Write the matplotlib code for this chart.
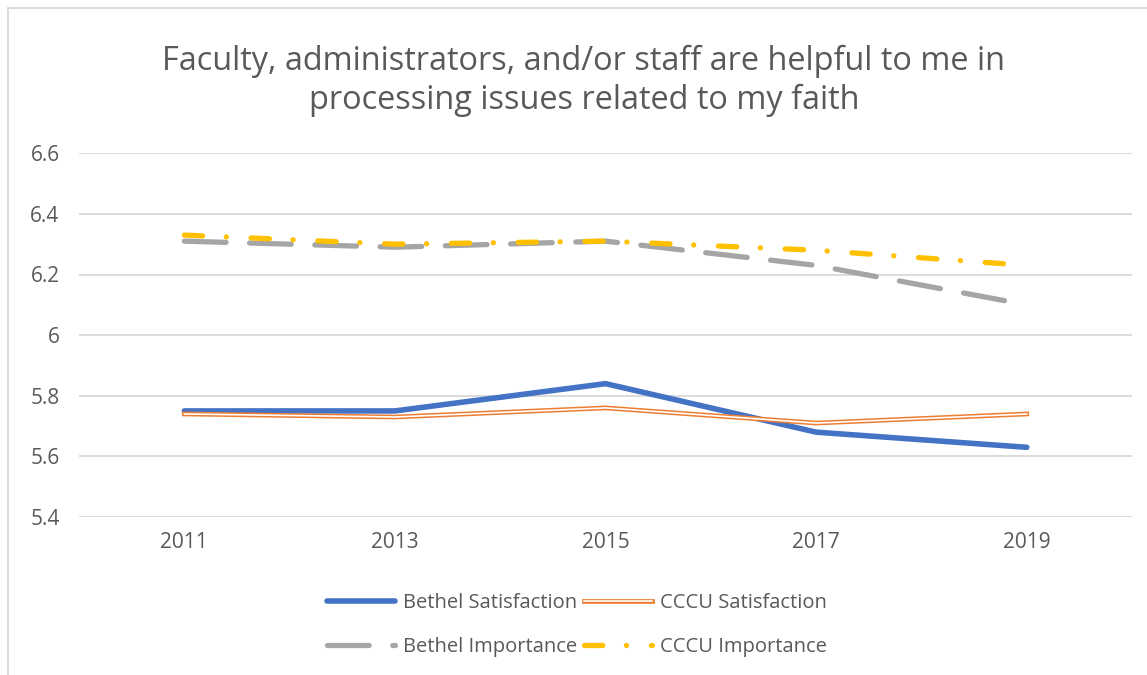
import matplotlib.pyplot as plt
from matplotlib.lines import Line2D

plt.rcParams['font.family'] = ['Open Sans', 'DejaVu Sans']
plt.rcParams['lines.scale_dashes'] = False

anos = ['2011', '2013', '2015', '2017', '2019']
bethel_satisf = [5.75, 5.75, 5.84, 5.68, 5.63]
cccu_satisf = [5.74, 5.73, 5.76, 5.71, 5.74]
bethel_import = [6.31, 6.29, 6.31, 6.23, 6.10]
cccu_import = [6.33, 6.30, 6.31, 6.28, 6.23]

cinza_txt = '#595959'
x = list(range(len(anos)))

fig = plt.figure(figsize=(11.47, 6.75), dpi=100)
ax = fig.add_axes([0.0689, 0.234, 0.9181, 0.539])

ax.plot(x, bethel_satisf, color='#4472C4', lw=4, solid_capstyle='round', zorder=3)
ax.plot(x, cccu_satisf, color='#ED7D31', lw=3.4, zorder=3)
ax.plot(x, cccu_satisf, color='white', lw=1.2, zorder=3)
ax.plot(x, bethel_import, color='#A5A5A5', lw=3.8, dashes=(30, 17),
        dash_capstyle='round', zorder=3)
ax.plot(x, cccu_import, color='#FFC000', lw=3.8, dashes=(13.2, 17, 0.1, 17.8),
        dash_capstyle='round', zorder=4)

ax.set_xlim(-0.5, len(anos) - 0.5)
ax.set_ylim(5.4, 6.6)
ax.set_yticks([5.4, 5.6, 5.8, 6.0, 6.2, 6.4, 6.6])
ax.set_yticklabels(['5.4', '5.6', '5.8', '6', '6.2', '6.4', '6.6'])
ax.set_xticks(x)
ax.set_xticklabels(anos)
ax.grid(axis='y', color='#D9D9D9', lw=1.3)
ax.set_axisbelow(True)
for s in ax.spines.values():
    s.set_visible(False)
ax.tick_params(length=0, labelsize=15, colors=cinza_txt, pad=11)
ax.tick_params(axis='y', pad=14)

fig.text(0.509, 0.88, 'Faculty, administrators, and/or staff are helpful to me in\nprocessing issues related to my faith',
         ha='center', va='center', fontsize=23.4, color=cinza_txt, linespacing=1.2)

# legenda
h_bs = Line2D([], [], color='#4472C4', lw=4, solid_capstyle='round')
h_cs = (Line2D([], [], color='#ED7D31', lw=3.4), Line2D([], [], color='white', lw=1.2))
h_bi = Line2D([], [], color='#A5A5A5', lw=3.8, dashes=(30, 17), dash_capstyle='round')
h_ci = Line2D([], [], color='#FFC000', lw=3.8, dashes=(13.2, 17, 0.1, 17.8), dash_capstyle='round')
leg = fig.legend([h_bs, h_bi, h_cs, h_ci],
                 ['Bethel Satisfaction', 'Bethel Importance', 'CCCU Satisfaction', 'CCCU Importance'],
                 ncol=2, loc='center', bbox_to_anchor=(0.503, 0.074), frameon=False,
                 fontsize=14.5, handlelength=3.4, handletextpad=0.4, columnspacing=0.3,
                 labelspacing=1.2)
for t in leg.get_texts():
    t.set_color(cinza_txt)

# borda do gráfico
fig.add_artist(Line2D([8 / 1147, 8 / 1147], [0, 1 - 8 / 675], color='#D9D9D9', lw=1.3))
fig.add_artist(Line2D([8 / 1147, 1], [1 - 8 / 675, 1 - 8 / 675], color='#D9D9D9', lw=1.3))

fig.savefig('out.png', dpi=100)
